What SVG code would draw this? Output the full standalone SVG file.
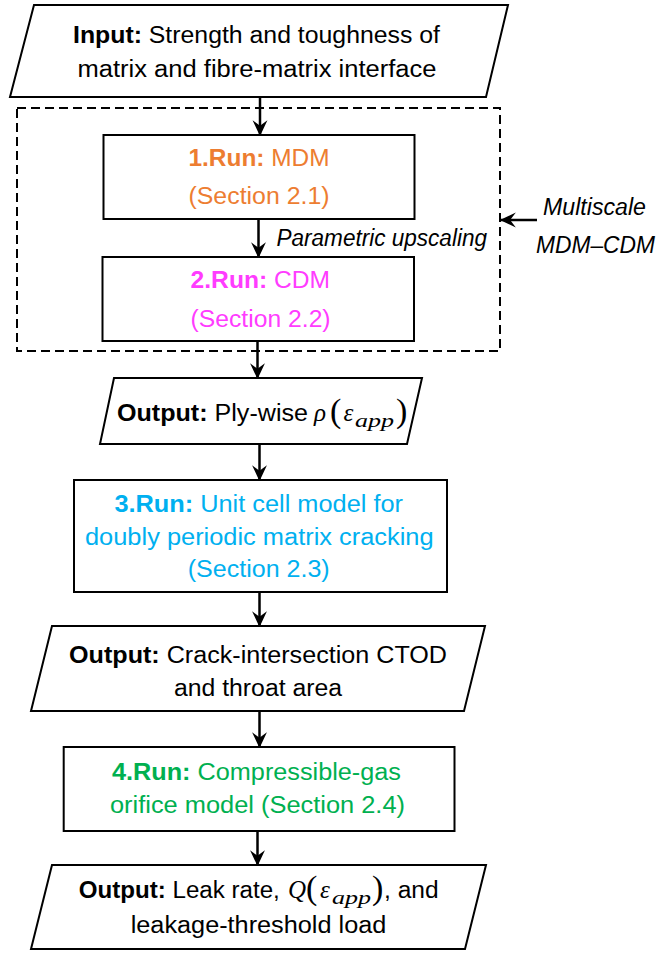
<svg xmlns="http://www.w3.org/2000/svg" width="657" height="956" viewBox="0 0 657 956">
<style>
.shape{fill:#fff;stroke:#000;stroke-width:2}
.t{font-family:"Liberation Sans",Arial,sans-serif;font-size:23px;fill:#000}
.b{font-weight:bold}
.i{font-style:italic}
.m{font-family:"Liberation Serif","Times New Roman",serif;font-style:italic;fill:#000}
.p{font-family:"Liberation Serif","Times New Roman",serif;fill:#000;font-size:34px}
.conn{stroke:#000;stroke-width:2.5;fill:none}
.orange{fill:#ED7D31}
.magenta{fill:#FF3CFF}
.cyan{fill:#00B0F0}
.green{fill:#00B050}
</style>
<defs>
<marker id="ah" markerUnits="userSpaceOnUse" markerWidth="16" markerHeight="16" viewBox="0 0 14 14" refX="13" refY="7" orient="auto">
<path d="M0,0.5 L14,7 L0,13.5 L5,7 Z" fill="#000"/>
</marker>
</defs>
<rect width="657" height="956" fill="#fff"/>

<g id="multiscale-group">
<rect x="17" y="108" width="483" height="243" fill="none" stroke="#000" stroke-width="2" stroke-dasharray="9 5"/>
<text class="t i" x="543" y="215" textLength="103" lengthAdjust="spacingAndGlyphs">Multiscale</text>
<text class="t i" x="536" y="253" textLength="119" lengthAdjust="spacingAndGlyphs">MDM–CDM</text>
</g>

<g id="input">
<polygon class="shape" points="34,5 508,5 486,97 10,97"/>
<text class="t" x="73" y="43" textLength="367" lengthAdjust="spacingAndGlyphs"><tspan class="b">Input:</tspan> Strength and toughness of</text>
<text class="t" x="77.5" y="77" textLength="359" lengthAdjust="spacingAndGlyphs">matrix and fibre-matrix interface</text>
</g>

<g id="mdm">
<rect class="shape" x="103.5" y="135" width="311" height="84"/>
<text class="t orange" x="188.5" y="166" textLength="141" lengthAdjust="spacingAndGlyphs"><tspan class="b">1.Run:</tspan> MDM</text>
<text class="t orange" x="188.5" y="204" textLength="141" lengthAdjust="spacingAndGlyphs">(Section 2.1)</text>
</g>

<g id="cdm">
<rect class="shape" x="102.5" y="257" width="311.5" height="84"/>
<text class="t magenta" x="190.6" y="288" textLength="139.5" lengthAdjust="spacingAndGlyphs"><tspan class="b">2.Run:</tspan> CDM</text>
<text class="t magenta" x="190.6" y="327" textLength="140" lengthAdjust="spacingAndGlyphs">(Section 2.2)</text>
</g>

<g id="output-ply">
<polygon class="shape" points="114,378 422,378 407,444 100,444"/>
<text class="t" x="117" y="421" textLength="191" lengthAdjust="spacingAndGlyphs"><tspan class="b">Output:</tspan> Ply-wise</text>
<text class="m" x="314" y="421" font-size="25">ρ</text>
<text class="p" x="330" y="421.5">(</text>
<text class="m" x="343.5" y="421" font-size="25">ε</text>
<text class="m" x="355" y="427" font-size="18" textLength="39" lengthAdjust="spacingAndGlyphs">app</text>
<text class="p" x="396" y="421.5">)</text>
</g>

<g id="unit-cell">
<rect class="shape" x="74" y="480" width="373" height="112"/>
<text class="t cyan" x="114.4" y="512" textLength="288.6" lengthAdjust="spacingAndGlyphs"><tspan class="b">3.Run:</tspan> Unit cell model for</text>
<text class="t cyan" x="85" y="545" textLength="348.6" lengthAdjust="spacingAndGlyphs">doubly periodic matrix cracking</text>
<text class="t cyan" x="187.7" y="577" textLength="142" lengthAdjust="spacingAndGlyphs">(Section 2.3)</text>
</g>

<g id="output-ctod">
<polygon class="shape" points="52,626 485,626 464,711 31,711"/>
<text class="t" x="69" y="663" textLength="378" lengthAdjust="spacingAndGlyphs"><tspan class="b">Output:</tspan> Crack-intersection CTOD</text>
<text class="t" x="174" y="696" textLength="168" lengthAdjust="spacingAndGlyphs">and throat area</text>
</g>

<g id="orifice">
<rect class="shape" x="63.7" y="747" width="390.8" height="84"/>
<text class="t green" x="112" y="780" textLength="289" lengthAdjust="spacingAndGlyphs"><tspan class="b">4.Run:</tspan> Compressible-gas</text>
<text class="t green" x="110" y="813" textLength="295" lengthAdjust="spacingAndGlyphs">orifice model (Section 2.4)</text>
</g>

<g id="output-leak">
<polygon class="shape" points="52,865 486,865 465,949 31,949"/>
<text class="t" x="78.8" y="898" textLength="201" lengthAdjust="spacingAndGlyphs"><tspan class="b">Output:</tspan> Leak rate,</text>
<text class="m" x="288" y="898" font-size="25">Q</text>
<text class="p" x="306" y="899">(</text>
<text class="m" x="320" y="898" font-size="25">ε</text>
<text class="m" x="332" y="904" font-size="18" textLength="39" lengthAdjust="spacingAndGlyphs">app</text>
<text class="p" x="372" y="899">)</text>
<text class="t" x="384" y="898" textLength="54.6" lengthAdjust="spacingAndGlyphs">, and</text>
<text class="t" x="130.7" y="933" textLength="255.6" lengthAdjust="spacingAndGlyphs">leakage-threshold load</text>
</g>

<g id="connectors">
<line class="conn" x1="260" y1="97" x2="260" y2="135" marker-end="url(#ah)"/>
<line class="conn" x1="258.5" y1="219" x2="258.5" y2="257" marker-end="url(#ah)"/>
<text class="t i" x="276.5" y="246" textLength="210.5" lengthAdjust="spacingAndGlyphs">Parametric upscaling</text>
<line class="conn" x1="257.5" y1="341" x2="257.5" y2="378" marker-end="url(#ah)"/>
<line class="conn" x1="259.5" y1="444" x2="259.5" y2="480" marker-end="url(#ah)"/>
<line class="conn" x1="259.5" y1="592" x2="259.5" y2="626" marker-end="url(#ah)"/>
<line class="conn" x1="259.5" y1="711" x2="259.5" y2="747" marker-end="url(#ah)"/>
<line class="conn" x1="257.5" y1="831" x2="257.5" y2="865" marker-end="url(#ah)"/>
<line class="conn" x1="537" y1="220" x2="501" y2="220" marker-end="url(#ah)"/>
</g>
</svg>
